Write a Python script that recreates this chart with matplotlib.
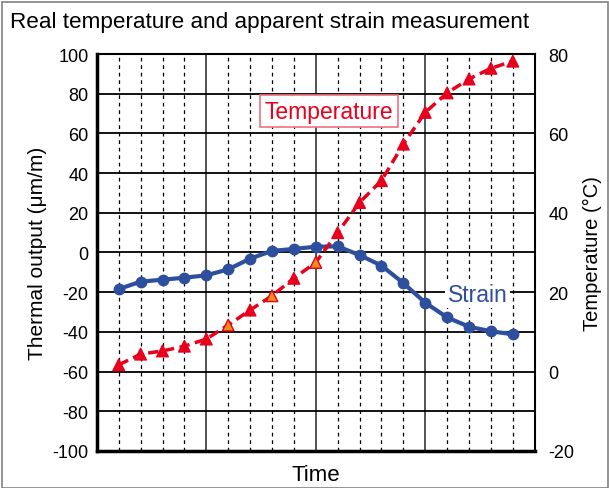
import numpy as np
import matplotlib.pyplot as plt
from matplotlib.patches import Rectangle

plt.rcParams['font.family'] = ['Liberation Sans', 'DejaVu Sans']
plt.rcParams['axes.unicode_minus'] = False

# sample positions along the time axis (20 divisions across the plot)
TIME = [1, 2, 3, 4, 5, 6, 7, 8, 9, 10, 11, 12, 13, 14, 15, 16, 17, 18, 19]

# apparent strain, um/m (left axis)
STRAIN = [-18.4, -14.7, -13.7, -12.7, -11.5, -8.5, -3.1, 0.8, 1.8, 2.9,
          3.1, -1.3, -6.6, -15.4, -25.3, -32.7, -37.4, -39.7, -41.2]

# real temperature, deg C (right axis)
TEMPERATURE = [1.7, 4.4, 5.2, 6.4, 8.2, 11.7, 15.5, 19.1, 23.5, 27.5,
               35.0, 42.6, 48.1, 57.3, 65.3, 70.2, 73.7, 76.4, 78.2]

LEFT_TICKS = [-100, -80, -60, -40, -20, 0, 20, 40, 60, 80, 100]
RIGHT_TICKS = [-20, 0, 20, 40, 60, 80]

BLUE = '#2d4f9e'
RED = '#e8001c'
ORANGE = '#f08c1a'

fig = plt.figure(figsize=(6.09, 4.89), dpi=100)
ax = fig.add_axes([0.159, 0.0757, 0.719, 0.8118])

# outer frame of the picture
fig.patches.append(Rectangle((0.004, 0.0), 0.994, 0.994, transform=fig.transFigure,
                             fill=False, edgecolor='#808080', lw=1.2))

fig.text(0.016, 0.955, 'Real temperature and apparent strain measurement',
         fontsize=16.2, ha='left', va='center')

ax.set_xlim(0, 20)
ax.set_ylim(-100, 100)
ax.set_yticks(LEFT_TICKS)
ax.set_xticks([0, 5, 10, 15, 20])
ax.set_xticks([i for i in range(21) if i % 5], minor=True)
ax.set_xticklabels([])
ax.tick_params(axis='x', which='both', length=0)
ax.tick_params(axis='y', length=0, labelsize=13, pad=6)

ax.grid(axis='y', color='black', lw=1.3)
ax.grid(axis='x', which='major', color='#444444', lw=1.3)
ax.grid(axis='x', which='minor', color='black', lw=0.9, ls=(0, (3, 3)))
ax.set_axisbelow(True)

for side in ['left', 'bottom']:
    ax.spines[side].set_linewidth(2.5)
for side in ['top', 'right']:
    ax.spines[side].set_linewidth(1.5)

ax.set_ylabel('Thermal output (μm/m)', fontsize=15, labelpad=4)
ax.set_xlabel('Time', fontsize=16, labelpad=6)

ax.plot(TIME, STRAIN, color=BLUE, lw=3, marker='o', ms=7.5, zorder=4)

ax2 = ax.twinx()
ax2.set_ylim(-20, 80)
ax2.set_yticks(RIGHT_TICKS)
ax2.tick_params(axis='y', length=0, labelsize=13, pad=10)
ax2.set_ylabel('Temperature (°C)', fontsize=14.5, labelpad=6)
for side in ax2.spines:
    ax2.spines[side].set_visible(False)

ax2.plot(TIME, TEMPERATURE, color=RED, lw=2.5, ls=(0, (3, 1.6)), zorder=3)
face = [ORANGE if i in (5, 7, 9) else RED for i in range(len(TIME))]
ax2.scatter(TIME, TEMPERATURE, marker='^', s=70, c=face, edgecolors=RED,
            linewidths=1.0, zorder=5)

ax2.text(10.6, 65.6, 'Temperature', color=RED, fontsize=16.5, ha='center', va='center',
         bbox=dict(boxstyle='square,pad=0.2', facecolor='white',
                   edgecolor='#f07080', lw=1.2), zorder=6)
ax.text(17.4, -21, 'Strain', color=BLUE, fontsize=16.5, ha='center', va='center',
        bbox=dict(boxstyle='square,pad=0.12', facecolor='white', edgecolor='none'),
        zorder=6)

fig.savefig('out.png', dpi=100)
